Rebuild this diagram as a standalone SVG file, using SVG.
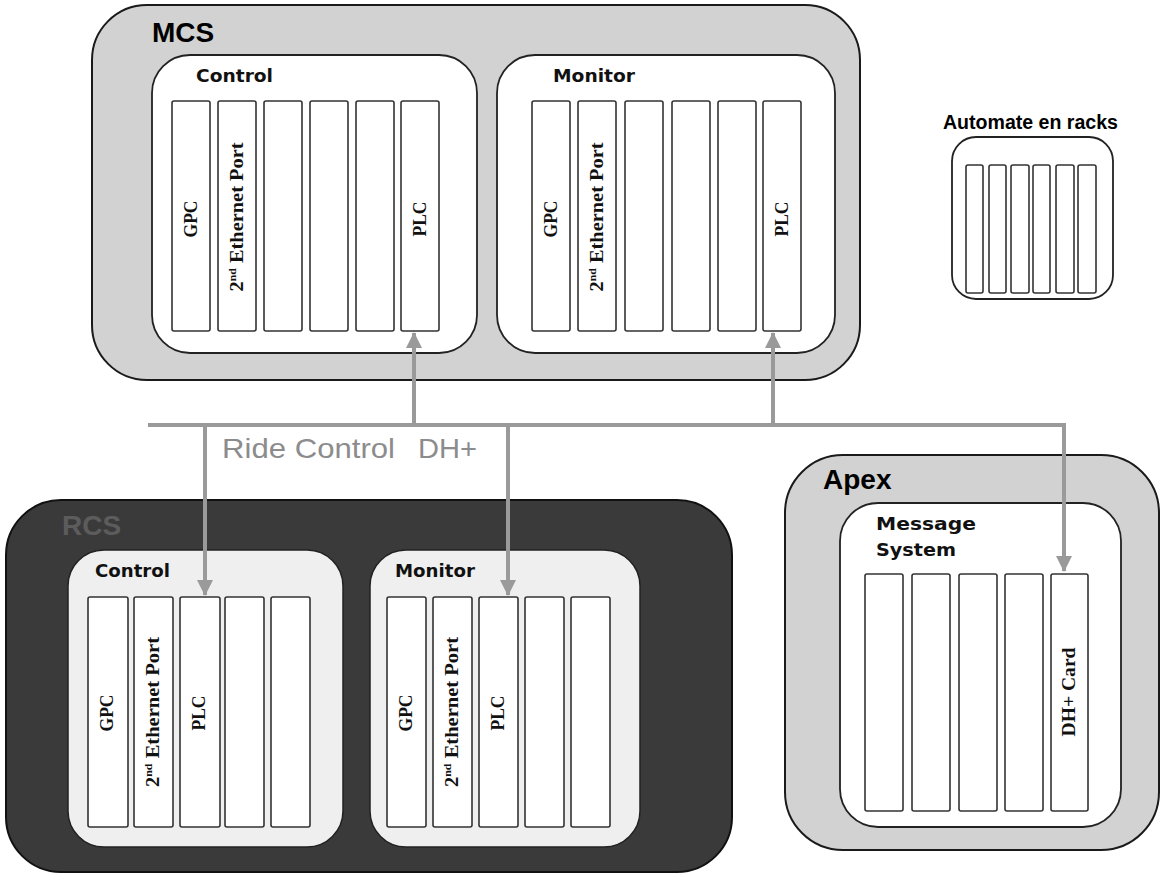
<svg xmlns="http://www.w3.org/2000/svg" width="1162" height="876" viewBox="0 0 1162 876">
<defs>
<style>
.outerL{fill:#d2d2d2;stroke:#1a1a1a;stroke-width:2}
.outerD{fill:#3a3a3a;stroke:#111;stroke-width:2}
.inner{fill:#fff;stroke:#222;stroke-width:1.8}
.innerG{fill:#efefef;stroke:#222;stroke-width:1.5}
.slot{fill:#fff;stroke:#333;stroke-width:1.6}
.big{font-family:"Liberation Sans",Arial,sans-serif;font-weight:bold;font-size:28px;fill:#000}
.lbl{font-family:"DejaVu Sans",Verdana,sans-serif;font-weight:bold;font-size:17px;fill:#111}
.card{font-family:"Liberation Serif","Times New Roman",serif;font-weight:bold;font-size:19px;fill:#111;text-anchor:middle}
.bus{fill:none;stroke:#9a9a9a;stroke-width:4}
.sup{font-size:11px}
</style>
<marker id="ah" markerUnits="userSpaceOnUse" markerWidth="16" markerHeight="16" viewBox="0 0 16 16" refX="15" refY="8" orient="auto">
<path d="M0,0 L16,8 L0,16 Z" fill="#9a9a9a"/>
</marker>
</defs>
<rect width="1162" height="876" fill="#fff"/>

<g id="mcs">
<rect class="outerL" x="92" y="5" width="768" height="375" rx="55" ry="55"/>
<text class="big" x="152" y="42">MCS</text>
</g>
<g id="mcs-control">
<rect class="inner" x="152" y="55" width="325" height="298" rx="38" ry="38"/>
<text class="lbl" x="196" y="82" textLength="77" lengthAdjust="spacingAndGlyphs">Control</text>
<rect class="slot" x="172" y="101" width="38" height="230" rx="2"/>
<rect class="slot" x="218" y="101" width="38" height="230" rx="2"/>
<rect class="slot" x="264" y="101" width="38" height="230" rx="2"/>
<rect class="slot" x="310" y="101" width="38" height="230" rx="2"/>
<rect class="slot" x="356" y="101" width="38" height="230" rx="2"/>
<rect class="slot" x="401" y="101" width="38" height="230" rx="2"/>
<text class="card" transform="translate(191,219) rotate(-90)" dy="6" textLength="37" lengthAdjust="spacingAndGlyphs">GPC</text>
<text class="card" transform="translate(237,217) rotate(-90)" dy="6" textLength="149" lengthAdjust="spacingAndGlyphs">2<tspan class="sup" dy="-7">nd</tspan><tspan dy="7"> Ethernet Port</tspan></text>
<text class="card" transform="translate(420,219) rotate(-90)" dy="6" textLength="35" lengthAdjust="spacingAndGlyphs">PLC</text>
</g>
<g id="mcs-monitor">
<rect class="inner" x="497" y="55" width="338" height="298" rx="38" ry="38"/>
<text class="lbl" x="553" y="82" textLength="82" lengthAdjust="spacingAndGlyphs">Monitor</text>
<rect class="slot" x="532" y="101" width="38" height="230" rx="2"/>
<rect class="slot" x="578" y="101" width="38" height="230" rx="2"/>
<rect class="slot" x="625" y="101" width="38" height="230" rx="2"/>
<rect class="slot" x="672" y="101" width="38" height="230" rx="2"/>
<rect class="slot" x="718" y="101" width="38" height="230" rx="2"/>
<rect class="slot" x="763" y="101" width="38" height="230" rx="2"/>
<text class="card" transform="translate(551,219) rotate(-90)" dy="6" textLength="37" lengthAdjust="spacingAndGlyphs">GPC</text>
<text class="card" transform="translate(597,217) rotate(-90)" dy="6" textLength="149" lengthAdjust="spacingAndGlyphs">2<tspan class="sup" dy="-7">nd</tspan><tspan dy="7"> Ethernet Port</tspan></text>
<text class="card" transform="translate(782,219) rotate(-90)" dy="6" textLength="35" lengthAdjust="spacingAndGlyphs">PLC</text>
</g>

<g id="automate">
<text x="943" y="129" font-family="Liberation Sans,Arial,sans-serif" font-weight="bold" font-size="20" fill="#000" textLength="175" lengthAdjust="spacingAndGlyphs">Automate en racks</text>
<rect class="inner" x="952" y="137" width="161" height="162" rx="24" ry="24"/>
<rect class="slot" x="966" y="165" width="17" height="128" rx="2"/>
<rect class="slot" x="989" y="165" width="17" height="128" rx="2"/>
<rect class="slot" x="1011" y="165" width="18" height="128" rx="2"/>
<rect class="slot" x="1033" y="165" width="17" height="128" rx="2"/>
<rect class="slot" x="1056" y="165" width="18" height="128" rx="2"/>
<rect class="slot" x="1078" y="165" width="18" height="128" rx="2"/>
</g>

<g id="rcs">
<rect class="outerD" x="6" y="500" width="726" height="372" rx="55" ry="55"/>
<text class="big" x="62" y="535" style="fill:#5c5c5c">RCS</text>
</g>
<g id="rcs-control">
<rect class="innerG" x="68" y="550" width="275" height="297" rx="36" ry="36"/>
<text class="lbl" x="95" y="577" textLength="75" lengthAdjust="spacingAndGlyphs">Control</text>
<rect class="slot" x="88" y="597" width="40" height="230" rx="2"/>
<rect class="slot" x="134" y="597" width="39" height="230" rx="2"/>
<rect class="slot" x="180" y="597" width="40" height="230" rx="2"/>
<rect class="slot" x="225" y="597" width="39" height="230" rx="2"/>
<rect class="slot" x="271" y="597" width="39" height="230" rx="2"/>
<text class="card" transform="translate(107,713) rotate(-90)" dy="6" textLength="37" lengthAdjust="spacingAndGlyphs">GPC</text>
<text class="card" transform="translate(153,712) rotate(-90)" dy="6" textLength="150" lengthAdjust="spacingAndGlyphs">2<tspan class="sup" dy="-7">nd</tspan><tspan dy="7"> Ethernet Port</tspan></text>
<text class="card" transform="translate(199,713) rotate(-90)" dy="6" textLength="35" lengthAdjust="spacingAndGlyphs">PLC</text>
</g>
<g id="rcs-monitor">
<rect class="innerG" x="370" y="550" width="270" height="297" rx="36" ry="36"/>
<text class="lbl" x="395" y="577" textLength="80" lengthAdjust="spacingAndGlyphs">Monitor</text>
<rect class="slot" x="387" y="597" width="39" height="230" rx="2"/>
<rect class="slot" x="433" y="597" width="39" height="230" rx="2"/>
<rect class="slot" x="479" y="597" width="39" height="230" rx="2"/>
<rect class="slot" x="525" y="597" width="39" height="230" rx="2"/>
<rect class="slot" x="571" y="597" width="39" height="230" rx="2"/>
<text class="card" transform="translate(406,713) rotate(-90)" dy="6" textLength="37" lengthAdjust="spacingAndGlyphs">GPC</text>
<text class="card" transform="translate(452,712) rotate(-90)" dy="6" textLength="150" lengthAdjust="spacingAndGlyphs">2<tspan class="sup" dy="-7">nd</tspan><tspan dy="7"> Ethernet Port</tspan></text>
<text class="card" transform="translate(498,713) rotate(-90)" dy="6" textLength="35" lengthAdjust="spacingAndGlyphs">PLC</text>
</g>

<g id="apex">
<rect class="outerL" x="785" y="455" width="374" height="395" rx="58" ry="58"/>
<text class="big" x="823" y="489">Apex</text>
</g>
<g id="apex-message">
<rect class="inner" x="840" y="503" width="281" height="324" rx="38" ry="38"/>
<text class="lbl" x="876" y="530" font-size="19" textLength="100" lengthAdjust="spacingAndGlyphs">Message</text>
<text class="lbl" x="876" y="556" font-size="19" textLength="80" lengthAdjust="spacingAndGlyphs">System</text>
<rect class="slot" x="865" y="574" width="38" height="237" rx="2"/>
<rect class="slot" x="912" y="574" width="38" height="237" rx="2"/>
<rect class="slot" x="959" y="574" width="38" height="237" rx="2"/>
<rect class="slot" x="1005" y="574" width="38" height="237" rx="2"/>
<rect class="slot" x="1051" y="574" width="37" height="237" rx="2"/>
<text class="card" transform="translate(1069,692) rotate(-90)" dy="6" textLength="89" lengthAdjust="spacingAndGlyphs">DH+ Card</text>
</g>

<g id="connectors">
<path class="bus" d="M148,425 H1064 V571" marker-end="url(#ah)"/>
<path class="bus" d="M414,425 V333" marker-end="url(#ah)"/>
<path class="bus" d="M773,425 V333" marker-end="url(#ah)"/>
<path class="bus" d="M205,425 V595" marker-end="url(#ah)"/>
<path class="bus" d="M508,425 V595" marker-end="url(#ah)"/>
<text x="222" y="458" font-family="Liberation Sans,Arial,sans-serif" font-size="28" fill="#8c8c8c"><tspan x="222" textLength="173" lengthAdjust="spacingAndGlyphs">Ride Control</tspan><tspan x="418" textLength="59" lengthAdjust="spacingAndGlyphs">DH+</tspan></text>
</g>
</svg>
